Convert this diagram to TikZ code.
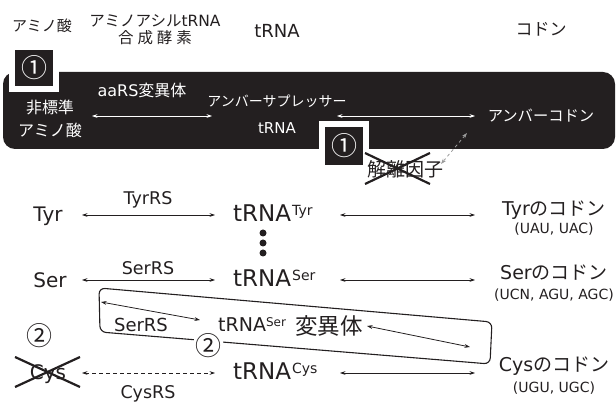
\documentclass[tikz,border=0pt]{standalone}
\usepackage{fontspec}
\setmainfont{DejaVu Sans}
\newfontfamily\jp{Noto Sans CJK JP}
\usetikzlibrary{arrows.meta}
\definecolor{ink}{HTML}{231F20}
\definecolor{fadegray}{HTML}{9A9A9A}
\newcommand{\fs}[1]{\fontsize{#1}{#1}\selectfont}
\begin{document}
\begin{tikzpicture}[x=1pt,y=-1pt,
  >={Stealth[length=5.5pt,width=3.8pt]},
  lbl/.style={inner sep=0pt, text=ink},
  wlbl/.style={inner sep=0pt, text=white},
  conn/.style={draw=ink, line width=0.8pt, <->},
  wconn/.style={draw=white, line width=0.8pt, <->},
  cross/.style={draw=ink, line width=2.2pt},
  numbox/.style={fill=ink, draw=white, line width=6pt, minimum width=44pt, minimum height=42pt, inner sep=0pt, text=white}
]
\useasboundingbox (0,0) rectangle (616,403);

% headers
\node[lbl, font=\jp\fs{15}] (hAA) at (42,26) {アミノ酸};
\node[lbl, anchor=base] (hRS1) at (155,27) {{\jp\fs{15.5}アミノアシル}{\fs{15.5}tRNA}};
\node[lbl, font=\jp\fs{15.5}] (hRS2) at (155,38) {合\hspace{4pt}成\hspace{4pt}酵\hspace{4pt}素};
\node[lbl, font=\fs{18}] (hTR) at (277,31) {tRNA};
\node[lbl, font=\jp\fs{17}] (hCD) at (541,29.5) {コドン};

% black band
\fill[ink, rounded corners=12pt] (3,72) rectangle (615,149);
\node[numbox, font=\jp\fs{26}] (n1a) at (34,68) {①};
\node[numbox, minimum height=44pt, font=\jp\fs{26}] (n1b) at (344,146) {①};

\node[wlbl, font=\fs{16}, anchor=base] (aars) at (142,97) {aaRS{\jp 変異体}};
\node[wlbl, font=\jp\fs{16}] (ns1) at (50,107) {非標準};
\node[wlbl, font=\jp\fs{16}] (ns2) at (50,130) {アミノ酸};
\node[wlbl, font=\jp\fs{14}] (sup) at (277,101) {アンバーサプレッサー};
\node[wlbl, font=\fs{15}, anchor=base] (stR) at (277,134) {tRNA};
\node[wlbl, font=\jp\fs{15.3}] (amb) at (541,116) {アンバーコドン};
\coordinate (w1a) at (92,116); \coordinate (w1b) at (212,116);
\coordinate (w2a) at (337,116); \coordinate (w2b) at (475,116);
\draw[wconn] (w1a) -- (w1b);
\draw[wconn] (w2a) -- (w2b);

% release factor
\node[lbl, font=\jp\fs{19}] (rf) at (405,169) {解離因子};
\draw[cross] (365,153) -- (430,184);
\draw[cross] (365,184) -- (430,153);
\coordinate (g1) at (467,133); \coordinate (g2) at (441,164);
\draw[draw=fadegray, dashed, line width=0.8pt, <->] (g1) -- (g2);

% Tyr row
\node[lbl, font=\fs{20}, anchor=base] (tyr) at (48,222) {Tyr};
\node[lbl, font=\fs{17.5}, anchor=base] (tyrrs) at (148,205) {TyrRS};
\node[lbl, anchor=base west] (ttyr) at (233,222) {\fs{23}tRNA\kern1pt\raisebox{6pt}{\fs{14}Tyr}};
\node[lbl, font=\fs{19}, anchor=base] (ctyr) at (554,216) {Tyr{\jp のコドン}};
\node[lbl, font=\fs{14}, anchor=base] (ctyr2) at (554,234) {(UAU, UAC)};
\coordinate (t1a) at (82,215); \coordinate (t1b) at (215,215);
\coordinate (t2a) at (340,215); \coordinate (t2b) at (475,215);
\draw[conn] (t1a) -- (t1b);
\draw[conn] (t2a) -- (t2b);

% dots
\fill[ink] (263,233) circle (3.5);
\fill[ink] (263,243) circle (3.5);
\fill[ink] (263,253) circle (3.5);

% Ser row
\node[lbl, font=\fs{20}, anchor=base] (ser) at (50,288) {Ser};
\node[lbl, font=\fs{17.5}, anchor=base] (serrs) at (148,275) {SerRS};
\node[lbl, anchor=base west] (tser) at (233,287) {\fs{23}tRNA\kern1pt\raisebox{6pt}{\fs{14}Ser}};
\node[lbl, font=\fs{19}, anchor=base] (cser) at (554,280) {Ser{\jp のコドン}};
\node[lbl, font=\fs{14}, anchor=base] (cser2) at (554,300) {(UCN, AGU, AGC)};
\coordinate (s1a) at (82,280); \coordinate (s1b) at (215,280);
\coordinate (s2a) at (340,280); \coordinate (s2b) at (475,280);
\draw[conn] (s1a) -- (s1b);
\draw[conn] (s2a) -- (s2b);

% variant box
\draw[ink, line width=1.1pt, rounded corners=6pt] (99,288) -- (492,322) -- (490,364) -- (100,332) -- cycle;
\node[lbl, fill=white, inner sep=1.5pt, font=\jp\fs{26}] (two2) at (208,346) {②};
\coordinate (v1a) at (101,302); \coordinate (v1b) at (200,320);
\draw[conn] (v1a) -- (v1b);
\node[lbl, font=\fs{18}, anchor=base] (vserrs) at (141,332) {SerRS};
\node[lbl, anchor=base west] (vtser) at (218,332) {\fs{19}tRNA\raisebox{5pt}{\fs{12}Ser}};
\node[lbl, font=\jp\fs{22.5}] (vmut) at (329,326) {変異体};
\coordinate (v2a) at (367,326); \coordinate (v2b) at (470,347);
\draw[conn] (v2a) -- (v2b);
\node[lbl, font=\jp\fs{26}] (two1) at (39,336) {②};

% Cys row
\node[lbl, font=\fs{20}, anchor=base] (cys) at (48,380) {Cys};
\draw[cross] (15,357) -- (80,387);
\draw[cross] (15,387) -- (80,357);
\node[lbl, font=\fs{17.5}, anchor=base] (cysrs) at (148,398) {CysRS};
\node[lbl, anchor=base west] (tcys) at (233,380) {\fs{23}tRNA\kern1pt\raisebox{6pt}{\fs{14}Cys}};
\node[lbl, font=\fs{19}, anchor=base] (ccys) at (554,371) {Cys{\jp のコドン}};
\node[lbl, font=\fs{14}, anchor=base] (ccys2) at (554,392) {(UGU, UGC)};
\coordinate (c1a) at (82,373); \coordinate (c1b) at (215,373);
\coordinate (c2a) at (340,373); \coordinate (c2b) at (475,373);
\draw[conn, dash pattern=on 4pt off 3pt] (c1a) -- (c1b);
\draw[conn] (c2a) -- (c2b);
\end{tikzpicture}
\end{document}
